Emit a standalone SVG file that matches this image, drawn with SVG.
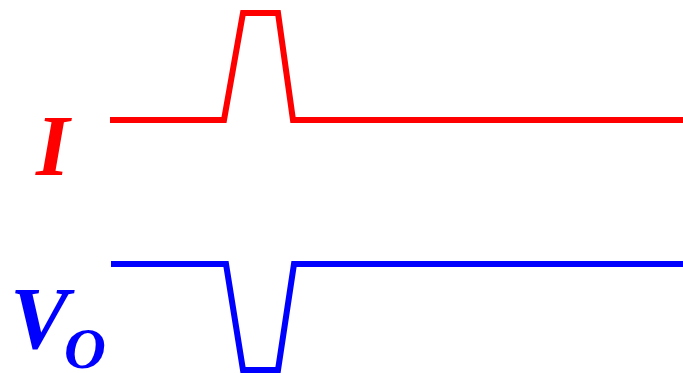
<svg xmlns="http://www.w3.org/2000/svg" width="683" height="373" viewBox="0 0 683 373">
<style>
.lbl{font-family:"Liberation Serif","Times New Roman",serif;font-weight:bold;font-style:italic}
.w{fill:none;stroke-width:6;stroke-linejoin:miter}
</style>
<rect width="683" height="373" fill="#fff"/>
<g id="connectors">
<polyline class="w" stroke="#ff0000" points="110,120 224,120 243,13 278,13 293,120 683,120"/>
<polyline class="w" stroke="#0000ff" points="111,264 226,264 243,370 278,370 294,264 683,264"/>
</g>
<g id="label-I"><text class="lbl" x="36" y="175" font-size="86" fill="#ff0000">I</text></g>
<g id="label-Vo"><text class="lbl" x="10" y="348" font-size="88" fill="#0000ff">V</text><text class="lbl" x="64" y="368" font-size="58" fill="#0000ff">O</text></g>
</svg>
